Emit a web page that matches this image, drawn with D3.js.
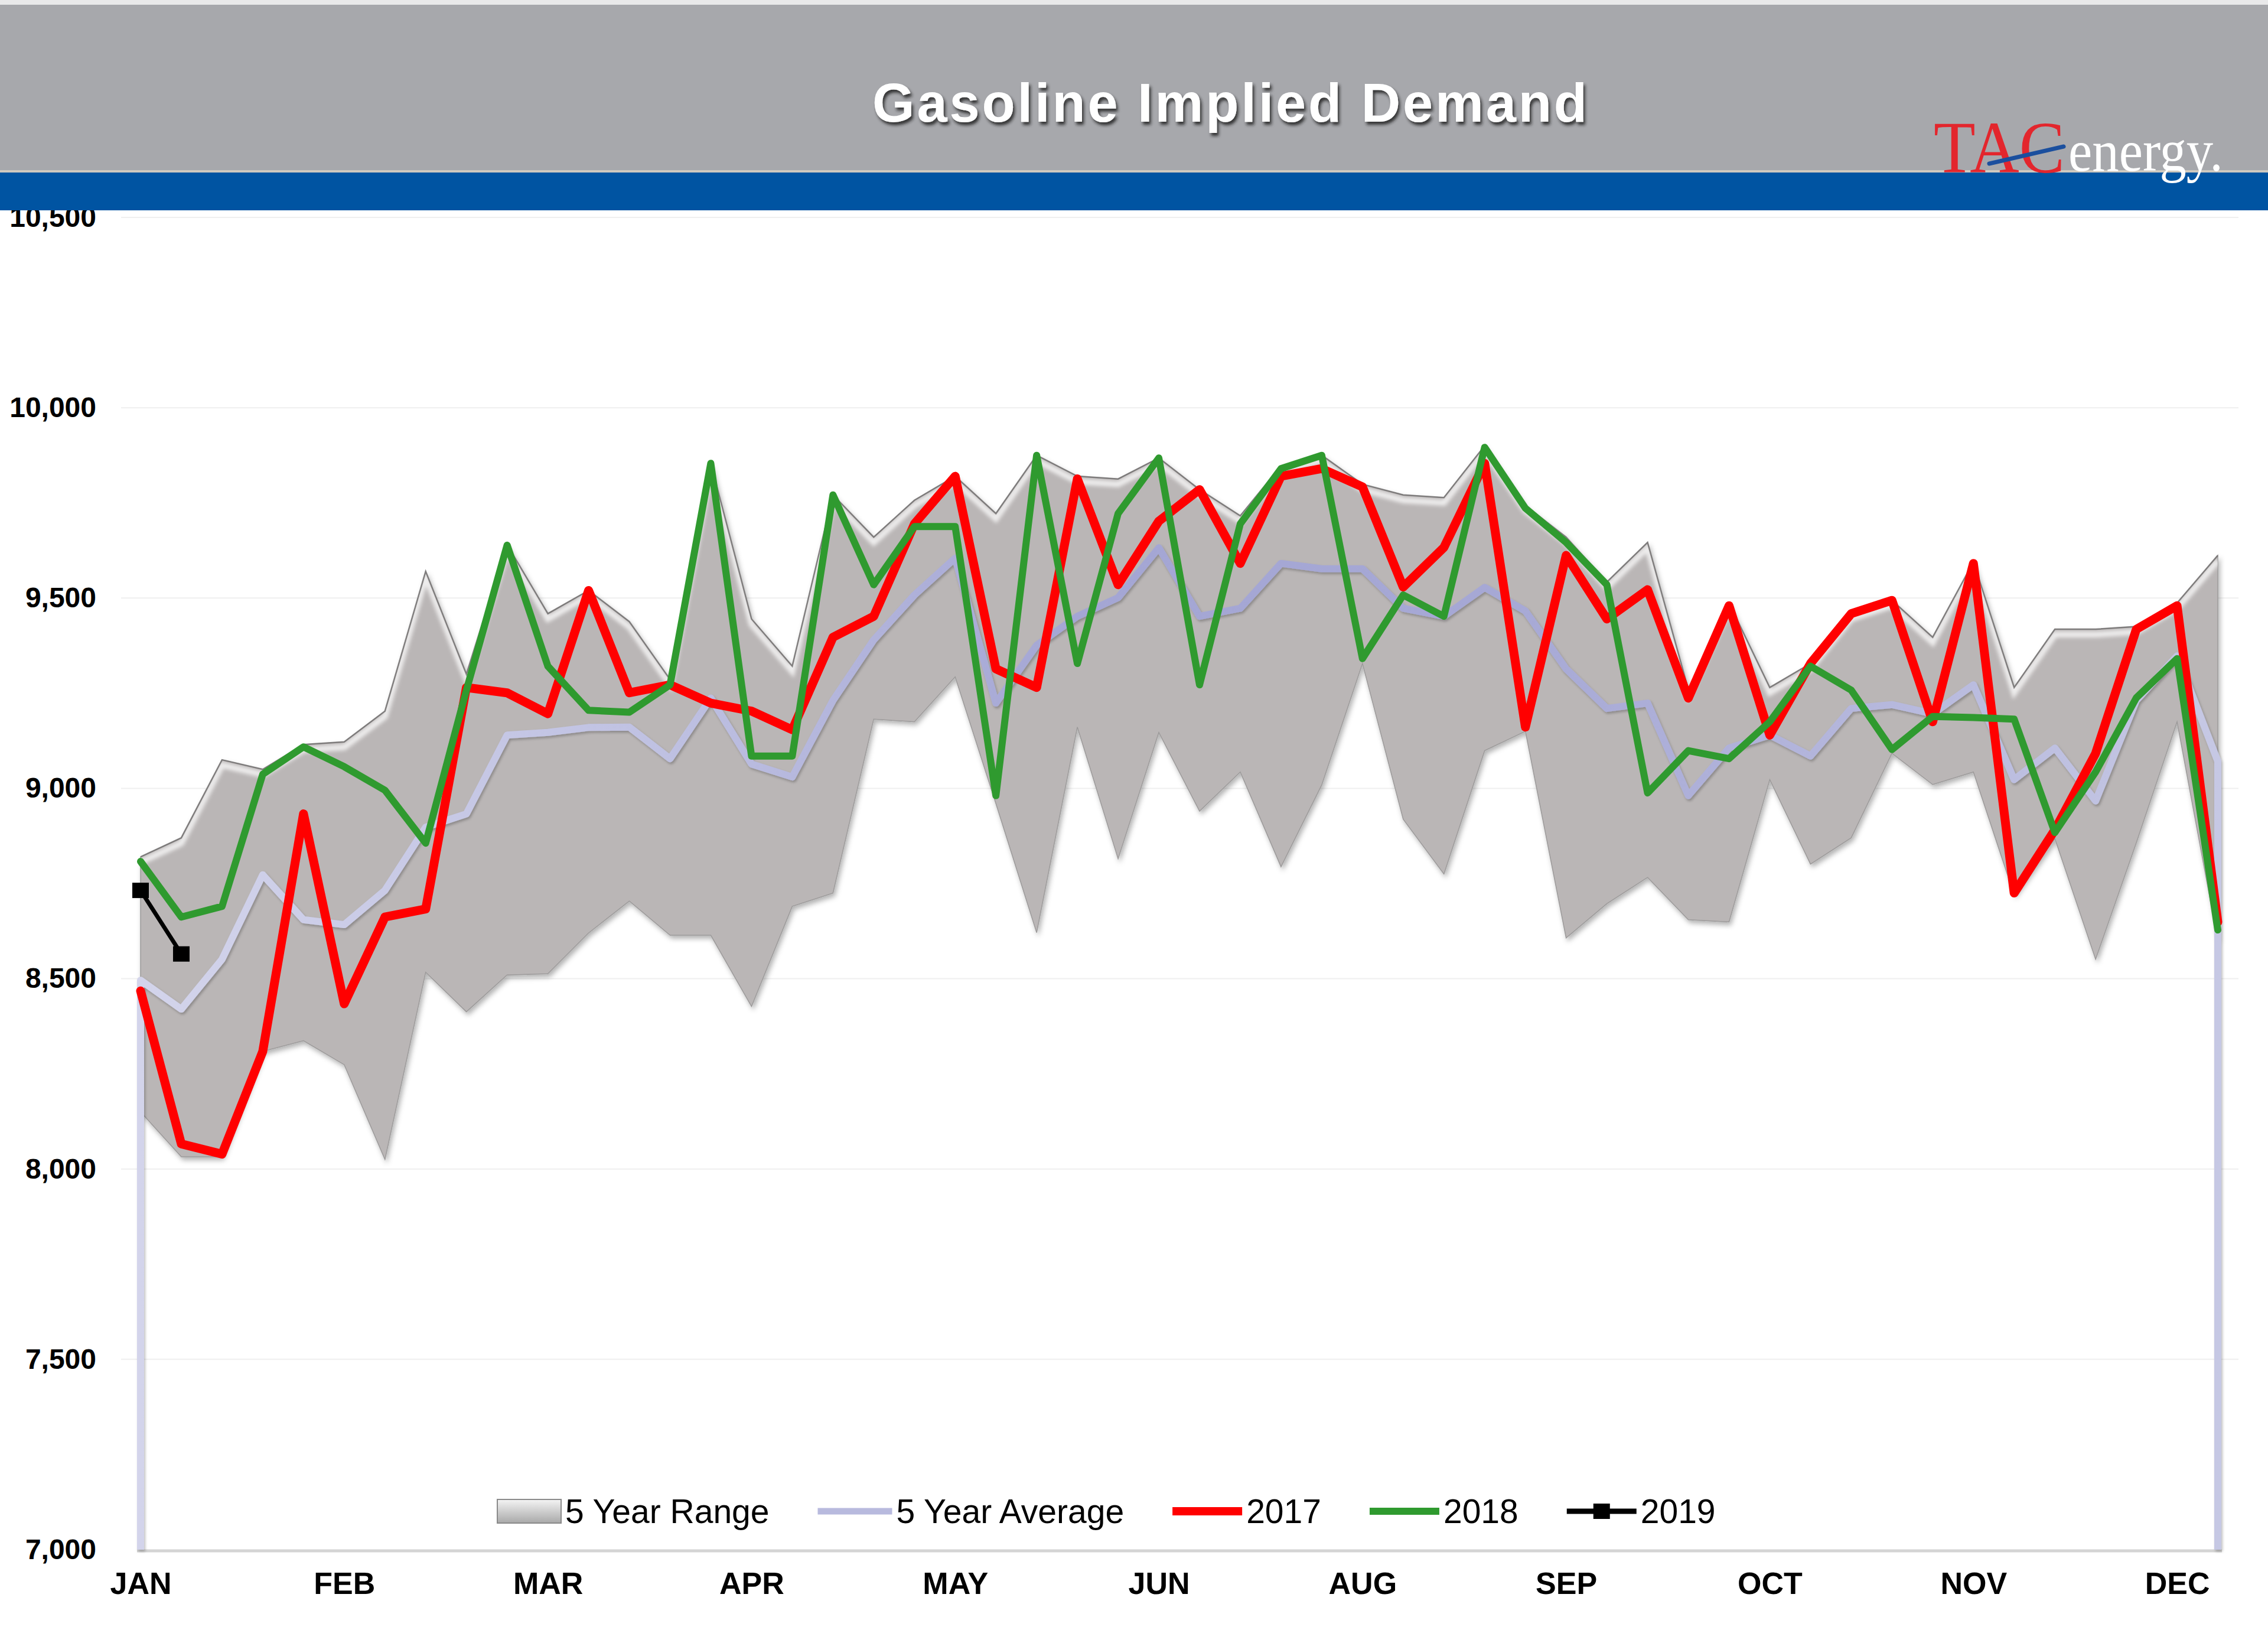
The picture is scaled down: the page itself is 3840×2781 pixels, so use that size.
<!DOCTYPE html>
<html><head><meta charset="utf-8">
<script src="https://cdn.jsdelivr.net/npm/d3@7"></script>
<style>html,body{margin:0;padding:0;background:#fff;} svg{display:block;}</style>
</head><body>
<svg id="chart" width="3840" height="2781"></svg>
<script>
// ---------------- DATA ----------------
const weeks = d3.range(1, 53);
const monthLabels = ["JAN","FEB","MAR","APR","MAY","JUN","AUG","SEP","OCT","NOV","DEC"];
const monthWeeks = [1, 6, 11, 16, 21, 26, 31, 36, 41, 46, 51];
const yTicks = [7000, 7500, 8000, 8500, 9000, 9500, 10000, 10500];

const rangeHigh = [8820,8870,9075,9050,9115,9122,9203,9570,9300,9640,9459,9520,9438,9286,9854,9445,9321,9771,9660,9757,
                   9820,9722,9875,9820,9813,9868,9785,9716,9847,9875,9799,9771,9764,9900,9743,9660,9542,9646,9260,9487,
                   9265,9328,9459,9494,9397,9595,9265,9418,9418,9425,9487,9612];
const rangeLow  = [8150,8032,8032,8309,8337,8274,8025,8517,8413,8510,8513,8620,8704,8614,8614,8427,8690,8725,9182,9175,
                   9293,8960,8621,9161,8815,9147,8940,9043,8794,9009,9328,8919,8775,9099,9150,8607,8697,8766,8655,8649,
                   9023,8801,8870,9092,9010,9043,8720,8868,8551,8857,9175,8600];
const avg5      = [8496,8420,8551,8773,8655,8642,8732,8898,8933,9140,9147,9160,9161,9078,9237,9064,9030,9231,9390,9508,
                   9605,9224,9376,9452,9501,9632,9452,9473,9591,9577,9577,9473,9452,9528,9466,9314,9210,9224,8981,9106,
                   9140,9085,9210,9220,9196,9272,9023,9106,8967,9231,9348,9071];
const y2017     = [8468,8066,8039,8309,8933,8434,8662,8683,9265,9251,9196,9520,9251,9272,9224,9203,9154,9397,9452,9695,
                   9820,9314,9265,9813,9535,9702,9785,9591,9820,9840,9792,9529,9633,9854,9161,9612,9445,9522,9237,9480,
                   9140,9328,9459,9494,9175,9591,8725,8891,9092,9418,9480,8649];
const y2018     = [8808,8662,8690,9037,9109,9057,8995,8856,9258,9639,9321,9205,9200,9272,9854,9085,9085,9771,9535,9688,
                   9688,8981,9875,9328,9722,9868,9272,9695,9840,9875,9341,9508,9452,9896,9736,9646,9535,8988,9099,9078,
                   9175,9321,9258,9102,9189,9186,9182,8884,9043,9238,9341,8628];
const y2019     = [8732, 8565];

const legendNames = ["5 Year Range", "5 Year Average", "2017", "2018", "2019"];
const titleText = "Gasoline Implied Demand";

// ---------------- SETUP ----------------
const svg = d3.select("#chart");
const W = 3840, H = 2781;
const x = d3.scalePoint().domain(weeks).range([238, 3755]);
const y = d3.scaleLinear().domain([7000, 10500]).range([2623, 368]);

const defs = svg.append("defs");
const f1 = defs.append("filter").attr("id","areaShadow").attr("x","-5%").attr("y","-5%").attr("width","110%").attr("height","120%");
f1.append("feDropShadow").attr("dx",3).attr("dy",5).attr("stdDeviation",4).attr("flood-color","#000").attr("flood-opacity",0.3);
const f2 = defs.append("filter").attr("id","lineShadow").attr("x","-5%").attr("y","-10%").attr("width","110%").attr("height","130%");
f2.append("feDropShadow").attr("dx",2).attr("dy",3).attr("stdDeviation",2).attr("flood-color","#000").attr("flood-opacity",0.25);
const f3 = defs.append("filter").attr("id","blurHi");
f3.append("feGaussianBlur").attr("stdDeviation",3);
const f4 = defs.append("filter").attr("id","titleShadow").attr("x","-5%").attr("y","-20%").attr("width","110%").attr("height","150%");
f4.append("feDropShadow").attr("dx",3).attr("dy",5).attr("stdDeviation",2.5).attr("flood-color","#222").attr("flood-opacity",0.85);
const lg = defs.append("linearGradient").attr("id","boxGrad").attr("x1",0).attr("y1",0).attr("x2",0).attr("y2",1);
lg.append("stop").attr("offset","0%").attr("stop-color","#f4f4f4");
lg.append("stop").attr("offset","45%").attr("stop-color","#d2d2d2");
lg.append("stop").attr("offset","100%").attr("stop-color","#a9a9a9");
const ag = defs.append("linearGradient").attr("id","avgGrad").attr("gradientUnits","userSpaceOnUse")
  .attr("x1",238).attr("y1",0).attr("x2",3755).attr("y2",0);
[["0%","#d3d4eb"],["25%","#bfc1e2"],["45%","#a4a6d4"],["65%","#a6a8d5"],["82%","#b4b6dc"],["100%","#c6c8e4"]]
  .forEach(s => ag.append("stop").attr("offset",s[0]).attr("stop-color",s[1]));

svg.append("rect").attr("width",W).attr("height",H).attr("fill","#fff");

// gridlines
svg.append("g").selectAll("line").data(yTicks.slice(1)).join("line")
  .attr("x1",205).attr("x2",3790)
  .attr("y1",d=>y(d)).attr("y2",d=>y(d))
  .attr("stroke","#efefef").attr("stroke-width",2);

// x baseline
svg.append("line").attr("x1",232).attr("x2",3762).attr("y1",y(7000)+2).attr("y2",y(7000)+2)
  .attr("stroke","#d4d4d4").attr("stroke-width",5);

// Y axis
const font = "'Liberation Sans', Arial, sans-serif";
const yAxis = d3.axisLeft(y).tickValues(yTicks).tickFormat(d3.format(",")).tickSize(0).tickPadding(7);
const gy = svg.append("g").attr("transform","translate(170,0)").call(yAxis);
gy.select(".domain").remove();
gy.selectAll("text").attr("font-family",font)
  .attr("font-weight","bold").attr("font-size",48).attr("fill","#000");

// X axis
const xAxis = d3.axisBottom(x).tickValues(monthWeeks)
  .tickFormat(d => monthLabels[monthWeeks.indexOf(d)]).tickSize(0).tickPadding(38);
const gx = svg.append("g").attr("transform",`translate(0,${y(7000)})`).call(xAxis);
gx.select(".domain").remove();
gx.selectAll("text").attr("font-family",font)
  .attr("font-weight","bold").attr("font-size",52).attr("fill","#000");

// ---------------- SERIES ----------------
const idx = d3.range(weeks.length);
const rangeArea = d3.area().x(i=>x(weeks[i])).y0(i=>y(rangeLow[i])).y1(i=>y(rangeHigh[i]));
const upperLine = d3.line().x(i=>x(weeks[i])).y(i=>y(rangeHigh[i]));

defs.append("clipPath").attr("id","rangeClip").append("path").attr("d", rangeArea(idx));

svg.append("path").attr("d", rangeArea(idx))
  .attr("fill","#bab6b6").attr("stroke","#9c9a9a").attr("stroke-width",1.5)
  .attr("filter","url(#areaShadow)");
const hi = svg.append("g").attr("clip-path","url(#rangeClip)");
hi.append("path").attr("d", upperLine(idx)).attr("transform","translate(0,9)")
  .attr("fill","none").attr("stroke","#ffffff").attr("stroke-opacity",0.75).attr("stroke-width",10)
  .attr("filter","url(#blurHi)");
svg.append("path").attr("d", upperLine(idx)).attr("fill","none")
  .attr("stroke","#747272").attr("stroke-width",2.5).attr("stroke-opacity",0.85);

// 5-year average (area outline dropping to baseline at both ends)
const avgPts = [[x(weeks[0]), y(7000)]]
  .concat(idx.map(i => [x(weeks[i]), y(avg5[i])]))
  .concat([[x(weeks[weeks.length-1]), y(7000)]]);
svg.append("path").attr("d", d3.line()(avgPts)).attr("fill","none")
  .attr("stroke","url(#avgGrad)").attr("stroke-width",12).attr("stroke-linejoin","round")
  .attr("filter","url(#lineShadow)");

const seriesLine = arr => d3.line().x((d,i)=>x(weeks[i])).y(d=>y(d))(arr);

svg.append("path").attr("d", seriesLine(y2017)).attr("fill","none")
  .attr("stroke","#ff0000").attr("stroke-width",15).attr("stroke-linejoin","round").attr("stroke-linecap","round");
svg.append("path").attr("d", seriesLine(y2018)).attr("fill","none")
  .attr("stroke","#2f9a2f").attr("stroke-width",12).attr("stroke-linejoin","round").attr("stroke-linecap","round");
svg.append("path").attr("d", seriesLine(y2019)).attr("fill","none")
  .attr("stroke","#000").attr("stroke-width",7);
svg.append("g").selectAll("rect").data(y2019).join("rect")
  .attr("x",(d,i)=>x(weeks[i])-14).attr("y",d=>y(d)-13).attr("width",28).attr("height",26).attr("fill","#000");

// ---------------- LEGEND ----------------
const legY = 2558;
const leg = svg.append("g");
let lx = 842;
legendNames.forEach((name, k) => {
  const iconW = k === 0 ? 108 : (k === 1 ? 126 : 118);
  if (k === 0) {
    leg.append("rect").attr("x",lx).attr("y",legY-20).attr("width",iconW).attr("height",40)
      .attr("fill","url(#boxGrad)").attr("stroke","#8a8a8a").attr("stroke-width",2);
  } else {
    const col = ["", "#b8bade", "#ff0000", "#2f9a2f", "#000"][k];
    const sw = [0, 11, 14, 12, 9][k];
    leg.append("line").attr("x1",lx).attr("x2",lx+iconW).attr("y1",legY).attr("y2",legY)
      .attr("stroke",col).attr("stroke-width",sw);
    if (k === 4) leg.append("rect").attr("x",lx+iconW/2-14).attr("y",legY-13).attr("width",28).attr("height",26).attr("fill","#000");
  }
  const t = leg.append("text").attr("x",lx+iconW+7).attr("y",legY+20)
    .attr("font-family",font).attr("font-size",57).attr("fill","#000").text(name);
  lx = lx + iconW + 7 + t.node().getComputedTextLength() + 82;
});

// ---------------- HEADER ----------------
svg.append("rect").attr("x",0).attr("y",6).attr("width",W).attr("height",284).attr("fill","#a7a8ac");
svg.append("rect").attr("x",0).attr("y",0).attr("width",W).attr("height",8).attr("fill","#e9e9ea");
svg.append("rect").attr("x",0).attr("y",288).attr("width",W).attr("height",4).attr("fill","#cfc9bf");
svg.append("rect").attr("x",0).attr("y",292).attr("width",W).attr("height",64).attr("fill","#0054a2");

svg.append("text").attr("x",2082).attr("y",206).attr("text-anchor","middle")
  .attr("font-family",font).attr("font-weight","bold").attr("font-size",92)
  .attr("textLength",1210).attr("lengthAdjust","spacing")
  .attr("fill","#fff").attr("filter","url(#titleShadow)").text(titleText);

// logo
svg.append("text").attr("x",3274).attr("y",292)
  .attr("font-family","'Liberation Serif', 'Times New Roman', serif").attr("font-size",124)
  .attr("textLength",222).attr("lengthAdjust","spacingAndGlyphs")
  .attr("fill","#e3262d").text("TAC");
svg.append("line").attr("x1",3368).attr("y1",277).attr("x2",3494).attr("y2",248)
  .attr("stroke","#1b4f9e").attr("stroke-width",7).attr("stroke-linecap","round");
svg.append("text").attr("x",3502).attr("y",289)
  .attr("font-family","'Liberation Serif', 'Times New Roman', serif").attr("font-size",100)
  .attr("textLength",262).attr("lengthAdjust","spacingAndGlyphs")
  .attr("fill","#fff").text("energy.");
</script>
</body></html>
